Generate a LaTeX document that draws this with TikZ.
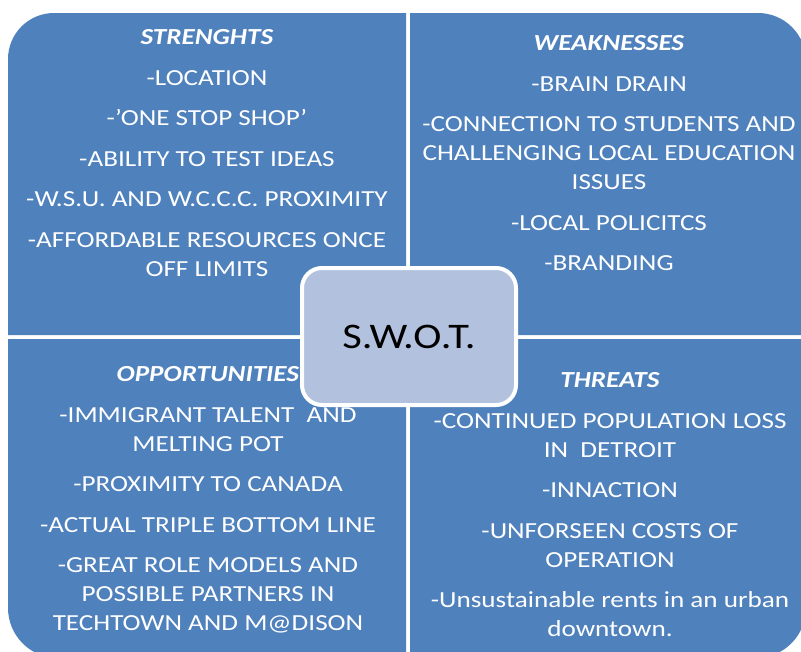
\documentclass[tikz,border=0pt]{standalone}
\usepackage{fontspec}
\setmainfont{Carlito}[FakeStretch=1.18]

\definecolor{swotblue}{RGB}{79,129,189}
\definecolor{swotlight}{RGB}{178,193,221}
\newcommand{\itemgap}{\\[8.6pt]}

\begin{document}
\begin{tikzpicture}[x=0.75pt, y=-0.75pt,
	quad/.style={fill=swotblue},
	quadtext/.style={anchor=north, align=center, inner sep=0pt, text=white,
		font=\fontsize{17.25}{21.75}\selectfont},
	hub/.style={draw=white, line width=3pt, fill=swotlight, rounded corners=15pt,
		minimum width=160.5pt, minimum height=102.75pt, inner sep=0pt,
		font=\fontsize{27}{32}\selectfont}]
	\useasboundingbox (0,0) rectangle (801,651);
	\clip (0,0) rectangle (801,651);

	% quadrants
	\fill [quad] (406,335) -- (8,335) [rounded corners=34.5pt] -- (8,13) [sharp corners] -- (406,13) -- cycle;
	\fill [quad] (410,335) -- (410,13) [rounded corners=36pt] -- (806,13) [sharp corners] -- (806,335) -- cycle;
	\fill [quad] (406,339) -- (8,339) [rounded corners=37.5pt] -- (8,658) [sharp corners] -- (406,658) -- cycle;
	\fill [quad] (410,339) -- (410,658) [rounded corners=37.5pt] -- (806,658) [sharp corners] -- (806,339) -- cycle;

	\node [quadtext] (strengths) at (207,29.6) {\textbf{\textit{STRENGHTS}}\itemgap
	-LOCATION\itemgap
	-’ONE STOP SHOP’\itemgap
	-ABILITY TO TEST IDEAS\itemgap
	-W.S.U. AND W.C.C.C. PROXIMITY\itemgap
	-AFFORDABLE RESOURCES ONCE\\
	OFF LIMITS};

	\node [quadtext] (weaknesses) at (609,35.6) {\textbf{\textit{WEAKNESSES}}\itemgap
	-BRAIN DRAIN\itemgap
	-CONNECTION TO STUDENTS AND\\
	CHALLENGING LOCAL EDUCATION\\
	ISSUES\itemgap
	-LOCAL POLICITCS\itemgap
	-BRANDING};

	\node [quadtext] (opportunities) at (208,366.6) {\textbf{\textit{OPPORTUNITIES}}\itemgap
	-IMMIGRANT TALENT\ \ AND\\
	MELTING POT\itemgap
	-PROXIMITY TO CANADA\itemgap
	-ACTUAL TRIPLE BOTTOM LINE\itemgap
	-GREAT ROLE MODELS AND\\
	POSSIBLE PARTNERS IN\\
	TECHTOWN AND M@DISON};

	\node [quadtext] (threats) at (610,372.6) {\textbf{\textit{THREATS}}\itemgap
	-CONTINUED POPULATION LOSS\\
	IN\ \ DETROIT\itemgap
	-INNACTION\itemgap
	-UNFORSEEN COSTS OF\\
	OPERATION\itemgap
	-Unsustainable rents in an urban\\
	downtown.};

	\node [hub] (swot) at (409,336.5) {S.W.O.T.};
\end{tikzpicture}
\end{document}
